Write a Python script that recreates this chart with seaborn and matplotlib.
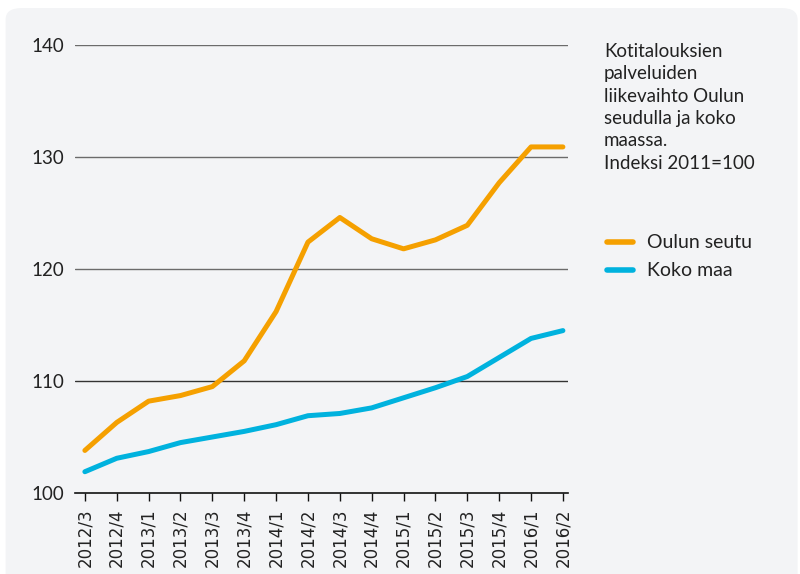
import numpy as np
import pandas as pd
import seaborn as sns
import matplotlib.pyplot as plt
from matplotlib.patches import FancyBboxPatch

quarters = ["2012/3", "2012/4", "2013/1", "2013/2", "2013/3", "2013/4", "2014/1", "2014/2",
            "2014/3", "2014/4", "2015/1", "2015/2", "2015/3", "2015/4", "2016/1", "2016/2"]
oulun_seutu = [103.8, 106.3, 108.2, 108.7, 109.5, 111.8, 116.2, 122.4,
               124.6, 122.7, 121.8, 122.6, 123.9, 127.7, 130.9, 130.9]
koko_maa = [101.9, 103.1, 103.7, 104.5, 105.0, 105.5, 106.1, 106.9,
            107.1, 107.6, 108.5, 109.4, 110.4, 112.1, 113.8, 114.5]
series_names = ["Oulun seutu", "Koko maa"]
title_text = "Kotitalouksien\npalveluiden\nliikevaihto Oulun\nseudulla ja koko\nmaassa.\nIndeksi 2011=100"

sns.set_theme(style="white")
plt.rcParams["font.family"] = ["Lato", "DejaVu Sans"]

df = pd.DataFrame({
    "x": list(range(len(quarters))) * 2,
    "value": oulun_seutu + koko_maa,
    "series": [series_names[0]] * len(quarters) + [series_names[1]] * len(quarters),
})

fig = plt.figure(figsize=(8, 5.74), dpi=100, facecolor="white")
bg = FancyBboxPatch((0.007, -0.05), 0.99, 1.036, boxstyle="round,pad=0,rounding_size=0.02",
                    transform=fig.transFigure, facecolor="#f3f4f6", edgecolor="none", zorder=-1)
fig.patches.append(bg)

ax = fig.add_axes([75 / 800, 1 - 493 / 574, (568 - 75) / 800, (493 - 45) / 574])
ax.set_facecolor("none")

palette = {"Oulun seutu": "#f5a000", "Koko maa": "#00b2de"}
sns.lineplot(data=df, x="x", y="value", hue="series", palette=palette, linewidth=3.6,
             ax=ax, legend=False, sort=False)

ax.set_xlim(-0.31, 15.16)
ax.set_ylim(100, 140)
ax.set_yticks([100, 110, 120, 130, 140])
for yv in [110, 120, 130, 140]:
    ax.axhline(yv, color="#333333" if yv == 110 else "#6b6b6b", linewidth=1.0, zorder=0)
for s in ["top", "right", "left"]:
    ax.spines[s].set_visible(False)
ax.spines["bottom"].set_color("#111111")
ax.spines["bottom"].set_linewidth(1.2)

ax.set_xticks(range(len(quarters)))
ax.set_xticklabels(quarters, rotation=90, fontsize=12, color="#222222",
                   family=["Liberation Sans Narrow", "DejaVu Sans"])
ax.tick_params(axis="x", bottom=True, length=6, width=1, color="#111111", pad=5)
ax.tick_params(axis="y", left=False, length=0, labelsize=13.5, labelcolor="#222222", pad=8)
ax.set_xlabel("")
ax.set_ylabel("")

fig.text(604 / 800, 1 - 43 / 574, title_text, fontsize=13.5, color="#222222",
         va="top", ha="left", linespacing=1.38)

for i, name in enumerate(series_names):
    y = 1 - (242 + 28 * i) / 574
    fig.lines.append(plt.Line2D([607 / 800, 633 / 800], [y, y], transform=fig.transFigure,
                                color=palette[name], linewidth=4))
    fig.text(647 / 800, y, name, fontsize=14, color="#222222", va="center", ha="left")

fig.savefig("out.png", dpi=100, facecolor="white")
